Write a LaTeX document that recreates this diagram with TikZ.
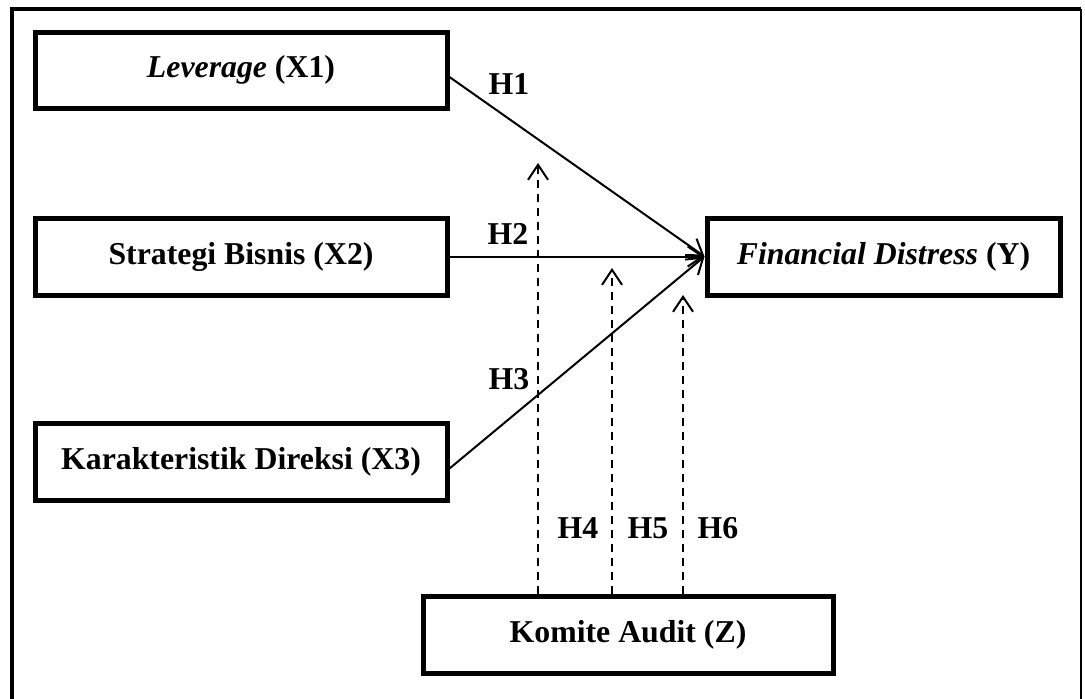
\documentclass[tikz,border=0pt]{standalone}
\usepackage{fontspec}
\setmainfont{Liberation Serif}
\usetikzlibrary{arrows.meta}
\tikzset{
  varbox/.style={draw, line width=2.5pt, rectangle, inner sep=0pt, align=center,
    font=\fontsize{15.9}{18}\selectfont\bfseries},
  hlabel/.style={font=\fontsize{15.9}{18}\selectfont\bfseries, inner sep=0pt},
  path/.style={line width=1pt, -{Straight Barb[length=7.5pt, width=10pt, line width=1pt]}},
  modpath/.style={line width=1pt, dash pattern=on 4pt off 3pt, -{Straight Barb[length=7.5pt, width=10pt, line width=1pt]}}
}
\begin{document}
\begin{tikzpicture}[x=0.5pt, y=-0.5pt]
\useasboundingbox (0,0) rectangle (1085,698);
\clip (0,0) rectangle (1085,698);
% outer frame
\draw[line width=1pt] (1081,9) -- (1081,720);
\draw[line width=2.2pt] (12,720) -- (12,9) -- (1081,9);
% boxes
\node[varbox, minimum width=206pt, minimum height=38pt] (lev) at (241,70) {\textit{Leverage} (X1)};
\node[varbox, minimum width=206pt, minimum height=38.5pt] (sb) at (241,256.5) {Strategi Bisnis (X2)};
\node[varbox, minimum width=206pt, minimum height=38.5pt] (kd) at (241,461.5) {Karakteristik Direksi (X3)};
\node[varbox, minimum width=176.5pt, minimum height=38.5pt] (fd) at (883.5,256.5) {\textit{Financial Distress} (Y)};
\node[varbox, minimum width=205pt, minimum height=38.5pt] (ka) at (628,634.5) {Komite Audit (Z)};
% main paths
\draw[path] ([yshift=-3.5pt]lev.east) -- (fd.west);
\draw[path] (sb.east) -- (fd.west);
\draw[path] ([yshift=-3.5pt]kd.east) -- (fd.west);
% moderating paths
\coordinate (m1) at (538,163);
\coordinate (m2) at (612,268);
\coordinate (m3) at (683,295);
\draw[modpath] (ka.north -| m1) -- (m1);
\draw[modpath] (ka.north -| m2) -- (m2);
\draw[modpath] (ka.north -| m3) -- (m3);
% labels
\node[hlabel] (h1) at (509,84) {H1};
\node[hlabel] (h2) at (508,234) {H2};
\node[hlabel] (h3) at (509,379) {H3};
\node[hlabel] (h4) at (578,528) {H4};
\node[hlabel] (h5) at (648,528) {H5};
\node[hlabel] (h6) at (718,528) {H6};
\end{tikzpicture}
\end{document}
